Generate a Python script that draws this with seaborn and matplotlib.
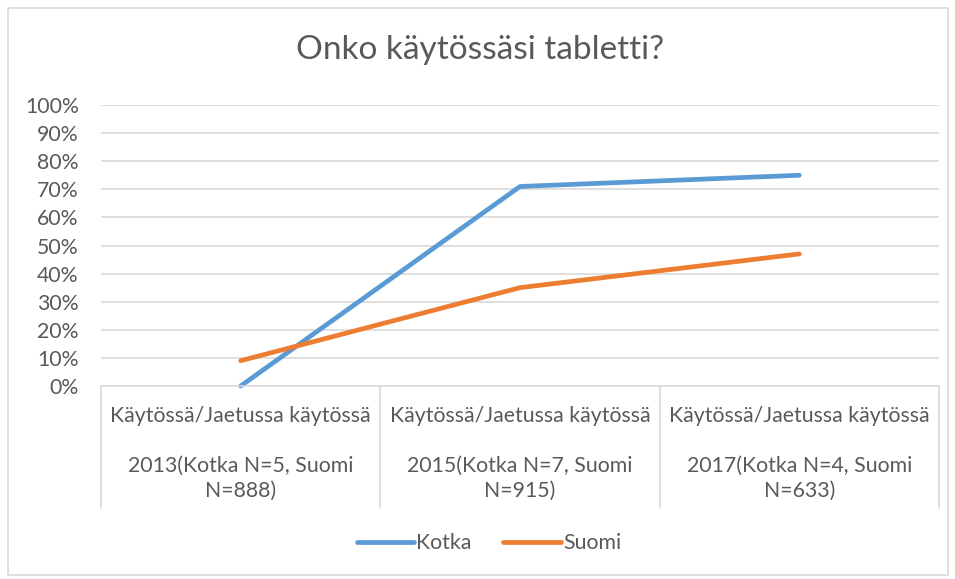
import matplotlib
matplotlib.use("Agg")
import matplotlib.pyplot as plt
import seaborn as sns
import pandas as pd
from matplotlib.patches import Rectangle
from matplotlib.ticker import PercentFormatter

# Data
years = ["2013(Kotka N=5, Suomi\nN=888)", "2015(Kotka N=7, Suomi\nN=915)", "2017(Kotka N=4, Suomi\nN=633)"]
top_label = "Käytössä/Jaetussa käytössä"
kotka = [0.0, 71.0, 75.0]
suomi = [9.0, 35.0, 47.0]
series = ["Kotka", "Suomi"]
colors = ["#5B9BD5", "#ED7D31"]

df = pd.DataFrame({
    "pos": list(range(len(years))) * 2,
    "value": kotka + suomi,
    "series": ["Kotka"] * len(years) + ["Suomi"] * len(years),
})

sns.set_style("white")
plt.rcParams["font.family"] = ["Lato", "DejaVu Sans"]
text_color = "#595959"
grid_color = "#D9D9D9"
fs = 15.3

fig = plt.figure(figsize=(9.55, 5.79), dpi=100)
ax = fig.add_axes([101 / 955, 1 - 386 / 579, 838 / 955, 281 / 579])

sns.lineplot(data=df, x="pos", y="value", hue="series", hue_order=series,
             palette=colors, linewidth=3.4, ax=ax, legend=False,
             solid_capstyle="round")
for ln in ax.lines:
    ln.set_clip_on(False)

ax.set_xlim(-0.5, len(years) - 0.5)
ax.set_ylim(0, 100)
ax.set_yticks(range(0, 101, 10))
ax.yaxis.set_major_formatter(PercentFormatter(decimals=0))
ax.set_xticks([])
ax.set_xlabel("")
ax.set_ylabel("")
ax.grid(axis="y", color=grid_color, linewidth=1.2)
ax.set_axisbelow(True)
for s in ["left", "right", "top"]:
    ax.spines[s].set_visible(False)
ax.spines["bottom"].set_color(grid_color)
ax.spines["bottom"].set_linewidth(1.2)
ax.tick_params(axis="y", length=0, pad=16, labelsize=fs, labelcolor=text_color)

# category labels, two levels, with separators
n = len(years)
for i in range(n + 1):
    ax.plot([i / n, i / n], [0, -0.434], transform=ax.transAxes, color=grid_color,
            linewidth=1.2, clip_on=False)
for i, lab in enumerate(years):
    xc = (i + 0.5) / n
    ax.text(xc, -0.107, top_label, transform=ax.transAxes, ha="center", va="center",
            fontsize=fs, color=text_color)
    ax.text(xc, -0.33, lab, transform=ax.transAxes, ha="center", va="center",
            fontsize=fs, color=text_color, linespacing=1.3)

fig.text(0.503, 1 - 50 / 579, "Onko käytössäsi tabletti?", ha="center", va="center",
         fontsize=24, color=text_color)

handles = [plt.Line2D([], [], color=c, linewidth=3.4, solid_capstyle="round") for c in colors]
fig.legend(handles, series, loc="center", bbox_to_anchor=(0.512, 1 - 543 / 579), ncol=2,
           frameon=False, fontsize=fs, labelcolor=text_color, handlelength=2.7,
           handletextpad=0.1, columnspacing=1.5)

fig.patches.append(Rectangle((8 / 955, 4 / 579), 940 / 955, 567 / 579, transform=fig.transFigure,
                             fill=False, edgecolor=grid_color, linewidth=1.2))

fig.savefig("out.png", dpi=100)
